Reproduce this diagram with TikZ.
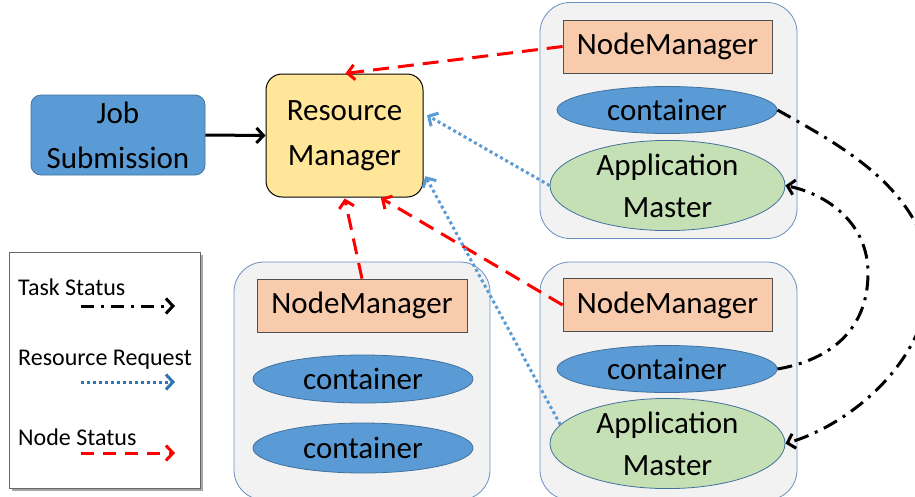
\documentclass[tikz,border=0pt]{standalone}
\usepackage{fontspec}
\setmainfont{Carlito}
\usetikzlibrary{shapes.geometric,arrows.meta,calc}
\definecolor{jobblue}{HTML}{5B9BD5}
\definecolor{jobedge}{HTML}{41719C}
\definecolor{rmfill}{HTML}{FFE699}
\definecolor{hostfill}{HTML}{F2F2F2}
\definecolor{hostedge}{HTML}{6A8FBF}
\definecolor{nmfill}{HTML}{F8CBAD}
\definecolor{nmedge}{HTML}{505050}
\definecolor{amfill}{HTML}{C5E0B4}
\definecolor{reqblue}{HTML}{5B9BD5}
\definecolor{legblue}{HTML}{2E75B6}
\tikzset{
  x=1pt, y=-1pt,
  bigtext/.style={font=\fontsize{31}{40}\selectfont, align=center, inner sep=0pt},
  jobbox/.style={bigtext, draw=jobedge, fill=jobblue, line width=0.8pt, rounded corners=10pt,
    minimum width=174pt, minimum height=80pt},
  rmbox/.style={bigtext, draw=black, fill=rmfill, line width=1pt, rounded corners=16pt,
    minimum width=157pt, minimum height=123pt},
  hostbox/.style={draw=hostedge, fill=hostfill, line width=0.8pt, rounded corners=30pt,
    minimum width=257pt, minimum height=236pt, inner sep=0pt},
  nmbox/.style={bigtext, draw=nmedge, fill=nmfill, line width=0.8pt,
    minimum width=209pt, minimum height=53pt},
  cont/.style={bigtext, ellipse, draw=jobedge, fill=jobblue, line width=0.8pt,
    minimum width=220pt, minimum height=47pt},
  amnode/.style={bigtext, ellipse, draw=jobedge, fill=amfill, line width=0.8pt,
    minimum width=235pt, minimum height=88pt},
  tip/.style={-{Straight Barb[length=7pt,width=15pt,line width=3pt]}},
  nodestat/.style={tip, draw=red, line width=3pt, dash pattern=on 16pt off 9pt},
  resreq/.style={tip, draw=reqblue, line width=3pt, dash pattern=on 3pt off 3pt},
  taskstat/.style={tip, draw=black, line width=3pt, dash pattern=on 15pt off 7pt on 3pt off 7pt},
  legtext/.style={font=\fontsize{24}{27}\selectfont, inner sep=0pt, anchor=west},
}
\begin{document}
\begin{tikzpicture}
\useasboundingbox (0,0) rectangle (915,496);

% host frames
\node[hostbox] (host1) at (668.5,120.5) {};
\node[hostbox, minimum height=238pt] (host2) at (668.5,381) {};
\node[hostbox, minimum width=256pt, minimum height=238pt] (host3) at (362,381) {};

% main nodes
\node[jobbox] (job) at (118,135) {Job\\[5pt]Submission};
\node[rmbox] (rm) at (344.5,135.5) {Resource\\[5pt]Manager};

% first host
\node[nmbox] (nm1) at (667.5,46.5) {NodeManager};
\node[cont] (c1) at (667,110) {container};
\node[amnode] (am1) at (667.5,185.5) {Application\\[2pt]Master};

% second host
\node[nmbox] (nm2) at (667.5,305) {NodeManager};
\node[cont] (c2) at (667,369) {container};
\node[amnode, minimum height=89pt] (am2) at (667.5,443.5) {Application\\[2pt]Master};

% third host
\node[nmbox, minimum width=210pt] (nm3) at (362,305.5) {NodeManager};
\node[cont, minimum height=48pt] (c3a) at (363,379) {container};
\node[cont, minimum height=50pt] (c3b) at (363,448) {container};

% job submission
\draw[tip, line width=3pt] (job.east) -- (rm.west);

% node status
\draw[nodestat, shorten >=1pt] (nm1.west) -- (rm.north);
\draw[nodestat, shorten >=1pt] (nm3.north) -- (rm.south);
\draw[nodestat, shorten >=1pt] (nm2.west) -- ($(rm.south)!0.45!(rm.south east)$);

% resource requests
\draw[resreq, shorten >=4pt] (am1.west) -- ($(rm.north east)!0.32!(rm.south east)$);
\draw[resreq, shorten >=4pt] (am2.170) -- ($(rm.north east)!0.8!(rm.south east)$);

% task status
\draw[taskstat] (c1.east) .. controls (840,145) and (925,190) .. (930,275)
  .. controls (930,360) and (850,425) .. (am2.east);
\draw[taskstat] (c2.east) .. controls (830,360) and (868,330) .. (868,273)
  .. controls (868,225) and (830,195) .. (am1.east);

% legend
\fill[gray!70] (12,255) rectangle (203,491);
\draw[fill=white, draw=gray!80!black, line width=1pt] (9,252) rectangle (200,488);
\node[legtext] (lt1) at (18,287) {Task Status};
\node[legtext] (lt2) at (18,360) {Resource Request};
\node[legtext] (lt3) at (18,437) {Node Status};
\coordinate (la1) at (81,306); \coordinate (lb1) at (175,306);
\coordinate (la2) at (81,382); \coordinate (lb2) at (175,382);
\coordinate (la3) at (81,453); \coordinate (lb3) at (175,453);
\draw[taskstat, dash pattern=on 13pt off 7pt on 3pt off 7pt] (la1) -- (lb1);
\draw[resreq, draw=legblue] (la2) -- (lb2);
\draw[nodestat, dash pattern=on 13pt off 9pt] (la3) -- (lb3);
\end{tikzpicture}
\end{document}
